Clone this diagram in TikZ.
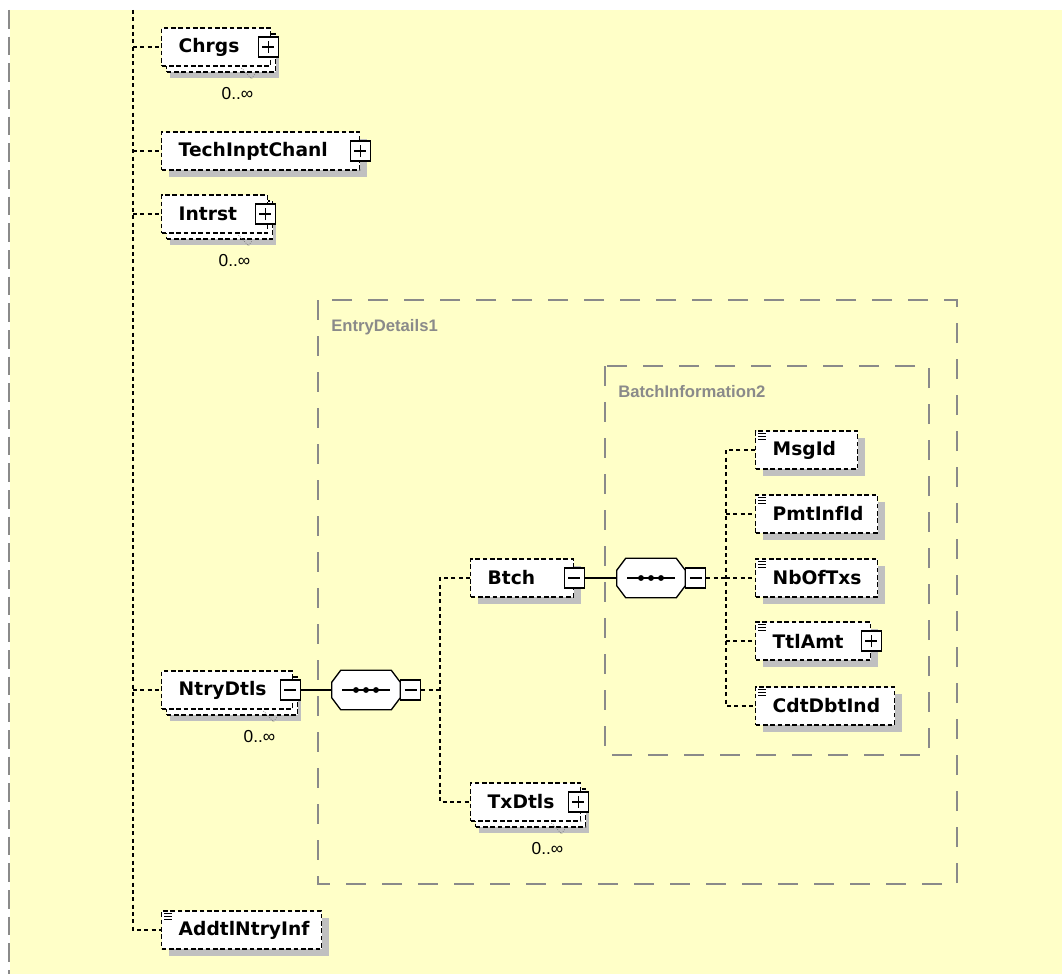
\documentclass[tikz,border=0pt]{standalone}
\usepackage{fontspec}
\setmainfont{Liberation Sans}
\newfontfamily\elemfont{DejaVu Sans}
\usetikzlibrary{positioning,shadows}
\definecolor{xsdbg}{HTML}{FFFFC8}
\definecolor{xsdshadow}{HTML}{C0C0C0}
\definecolor{xsdgroup}{HTML}{8A8A8A}

\begin{document}
\begin{tikzpicture}[x=0.75pt, y=-0.75pt,
	treeline/.style={line width=1.1pt, dash pattern=on 3pt off 2.5pt},
	grp/.style={xsdgroup, line width=1.1pt, dash pattern=on 15pt off 12pt},
	grplabel/.style={xsdgroup, anchor=west, inner sep=0pt, font=\bfseries\fontsize{12.5}{14}\selectfont},
	elem/.style={draw, line width=1.1pt, dash pattern=on 3.5pt off 2pt, fill=white, anchor=west,
		text width=#1, align=left, minimum height=28.5pt, inner xsep=0pt, inner ysep=0pt,
		font=\elemfont\bfseries\fontsize{14}{16}\selectfont, execute at begin node=\hspace*{12.75pt}},
	solo/.style={general shadow={fill=xsdshadow, shadow xshift=5.25pt, shadow yshift=-5.25pt}},
	multi/.style={general shadow={fill=xsdshadow, shadow xshift=6pt, shadow yshift=-9pt},
		general shadow={draw, fill=white, line width=1.1pt, dash pattern=on 3.5pt off 2pt, shadow xshift=3.75pt, shadow yshift=-4.5pt}},
	occurs/.style={inner sep=0pt, font=\fontsize{13}{15}\selectfont},
	btn/.style={draw, solid, line width=0.8pt, fill=white, minimum size=15pt, inner sep=0pt},
	plusbtn/.style={btn, path picture={\draw[line width=0.8pt] ([xshift=-4.5pt]path picture bounding box.center) -- ([xshift=4.5pt]path picture bounding box.center) ([yshift=-4.5pt]path picture bounding box.center) -- ([yshift=4.5pt]path picture bounding box.center);}},
	minusbtn/.style={btn, path picture={\draw[line width=0.8pt] ([xshift=-4.5pt]path picture bounding box.center) -- ([xshift=4.5pt]path picture bounding box.center);}},
	seqbox/.style={minimum width=51pt, minimum height=29.25pt, inner sep=0pt}]
	\useasboundingbox (0,0) rectangle (1062,974);
	\fill[white] (0,0) rectangle (1062,974);
	\fill[xsdbg] (10,10) rectangle (1062,974);
	% groups
	\draw[xsdgroup, line width=1.1pt, dash pattern=on 14pt off 6pt] (9,10) -- (9,974);
	\draw[grp] (318,300) rectangle (957,884);
	\node[grplabel] (entrylbl) at (331,327) {EntryDetails1};
	\draw[grp] (605,366) rectangle (929,755);
	\node[grplabel] (batchlbl) at (618,392) {BatchInformation2};
	% first level
	\node[elem=81.75pt, multi] (chrgs) at (161,47) {Chrgs};
	\node[plusbtn] (chrgsbtn) at ([xshift=-2.25pt]chrgs.east) {};
	\node[occurs] (chrgsocc) at ([xshift=-25.5pt,yshift=-20.25pt]chrgs.south east) {0..∞};
	\node[elem=148.5pt, solo] (techinpt) at (161,151) {TechInptChanl};
	\node[plusbtn] (techinptbtn) at (techinpt.east) {};
	\node[elem=79.5pt, multi] (intrst) at (161,214) {Intrst};
	\node[plusbtn] (intrstbtn) at ([xshift=-2.25pt]intrst.east) {};
	\node[occurs] (intrstocc) at ([xshift=-25.5pt,yshift=-20.25pt]intrst.south east) {0..∞};
	\node[elem=98.25pt, multi] (ntry) at (161,690) {NtryDtls};
	\node[minusbtn] (ntrybtn) at ([xshift=-2.25pt]ntry.east) {};
	\node[occurs] (ntryocc) at ([xshift=-25.5pt,yshift=-20.25pt]ntry.south east) {0..∞};
	\node[elem=120pt, solo] (addtl) at (161,930) {AddtlNtryInf};
	% entry details
	\node[seqbox] (seq1) at (366,690) {};
	\node[elem=77.25pt, solo] (btch) at (470,578) {Btch};
	\node[minusbtn] (btchbtn) at (btch.east) {};
	\node[elem=82.5pt, multi] (txdtls) at (470,802) {TxDtls};
	\node[plusbtn] (txdtlsbtn) at ([xshift=-2.25pt]txdtls.east) {};
	\node[occurs] (txdtlsocc) at ([xshift=-25.5pt,yshift=-20.25pt]txdtls.south east) {0..∞};
	% batch information
	\node[seqbox] (seq2) at (651,578) {};
	\node[elem=76.5pt, solo] (msgid) at (755,450) {MsgId};
	\node[elem=91.5pt, solo] (pmtinf) at (755,514) {PmtInfId};
	\node[elem=91.5pt, solo] (nboftxs) at (755,578) {NbOfTxs};
	\node[elem=86.25pt, solo] (ttlamt) at (755,641) {TtlAmt};
	\node[plusbtn] (ttlamtbtn) at (ttlamt.east) {};
	\node[elem=104.25pt, solo] (cdtdbt) at (755,706) {CdtDbtInd};
	% compositors
	\foreach \s in {seq1,seq2} {
		\fill[xsdshadow, shift={(6pt,-5.25pt)}] ([xshift=6.75pt]\s.north west) -- ([xshift=-6.75pt]\s.north east)
			-- ([yshift=-9pt]\s.north east) -- ([yshift=9pt]\s.south east) -- ([xshift=-6.75pt]\s.south east)
			-- ([xshift=6.75pt]\s.south west) -- ([yshift=9pt]\s.south west) -- ([yshift=-9pt]\s.north west) -- cycle;
		\draw[line width=1pt, fill=white] ([xshift=6.75pt]\s.north west) -- ([xshift=-6.75pt]\s.north east)
			-- ([yshift=-9pt]\s.north east) -- ([yshift=9pt]\s.south east) -- ([xshift=-6.75pt]\s.south east)
			-- ([xshift=6.75pt]\s.south west) -- ([yshift=9pt]\s.south west) -- ([yshift=-9pt]\s.north west) -- cycle;
		\draw[line width=1pt] ([xshift=-18pt]\s.center) -- ([xshift=18pt]\s.center);
		\foreach \dx in {-7.5pt,0pt,7.5pt}
			\fill ([xshift=\dx]\s.center) circle (2.2pt);
	}
	\node[minusbtn, right=0pt of seq1] (seq1btn) {};
	\node[minusbtn, right=0pt of seq2] (seq2btn) {};
	% simple content marks
	\foreach \n in {msgid,pmtinf,nboftxs,ttlamt,cdtdbt,addtl}
		\foreach \dy in {-2.25pt,-4.5pt,-6.75pt}
			\draw[line width=0.6pt] ([xshift=2.5pt,yshift=\dy]\n.north west) -- ++(5.5pt,0);
	\foreach \n in {chrgs,intrst,ntry,txdtls}
		\draw[gray, densely dotted, line width=0.6pt] ([xshift=-22.5pt,yshift=-1pt]\n.south east) -- ++(7.5pt,-8pt) -- ++(2.5pt,3.5pt);
	% connectors
	\coordinate (trunk) at (133,10);
	\coordinate (fork1) at (440,690);
	\coordinate (fork2) at (726,578);
	\draw[treeline] (trunk) |- (addtl.west);
	\foreach \n in {chrgs,techinpt,intrst,ntry}
		\draw[treeline] (trunk |- \n.west) -- (\n.west);
	\draw[line width=1pt] (ntrybtn.east) -- (seq1.west);
	\draw[treeline] (seq1btn.east) -- (fork1);
	\draw[treeline] (btch.west) -| (fork1) |- (txdtls.west);
	\draw[line width=1pt] (btchbtn.east) -- (seq2.west);
	\draw[treeline] (seq2btn.east) -- (fork2);
	\draw[treeline] (msgid.west) -| (fork2) |- (cdtdbt.west);
	\foreach \n in {pmtinf,nboftxs,ttlamt}
		\draw[treeline] (fork2 |- \n.west) -- (\n.west);
\end{tikzpicture}
\end{document}
